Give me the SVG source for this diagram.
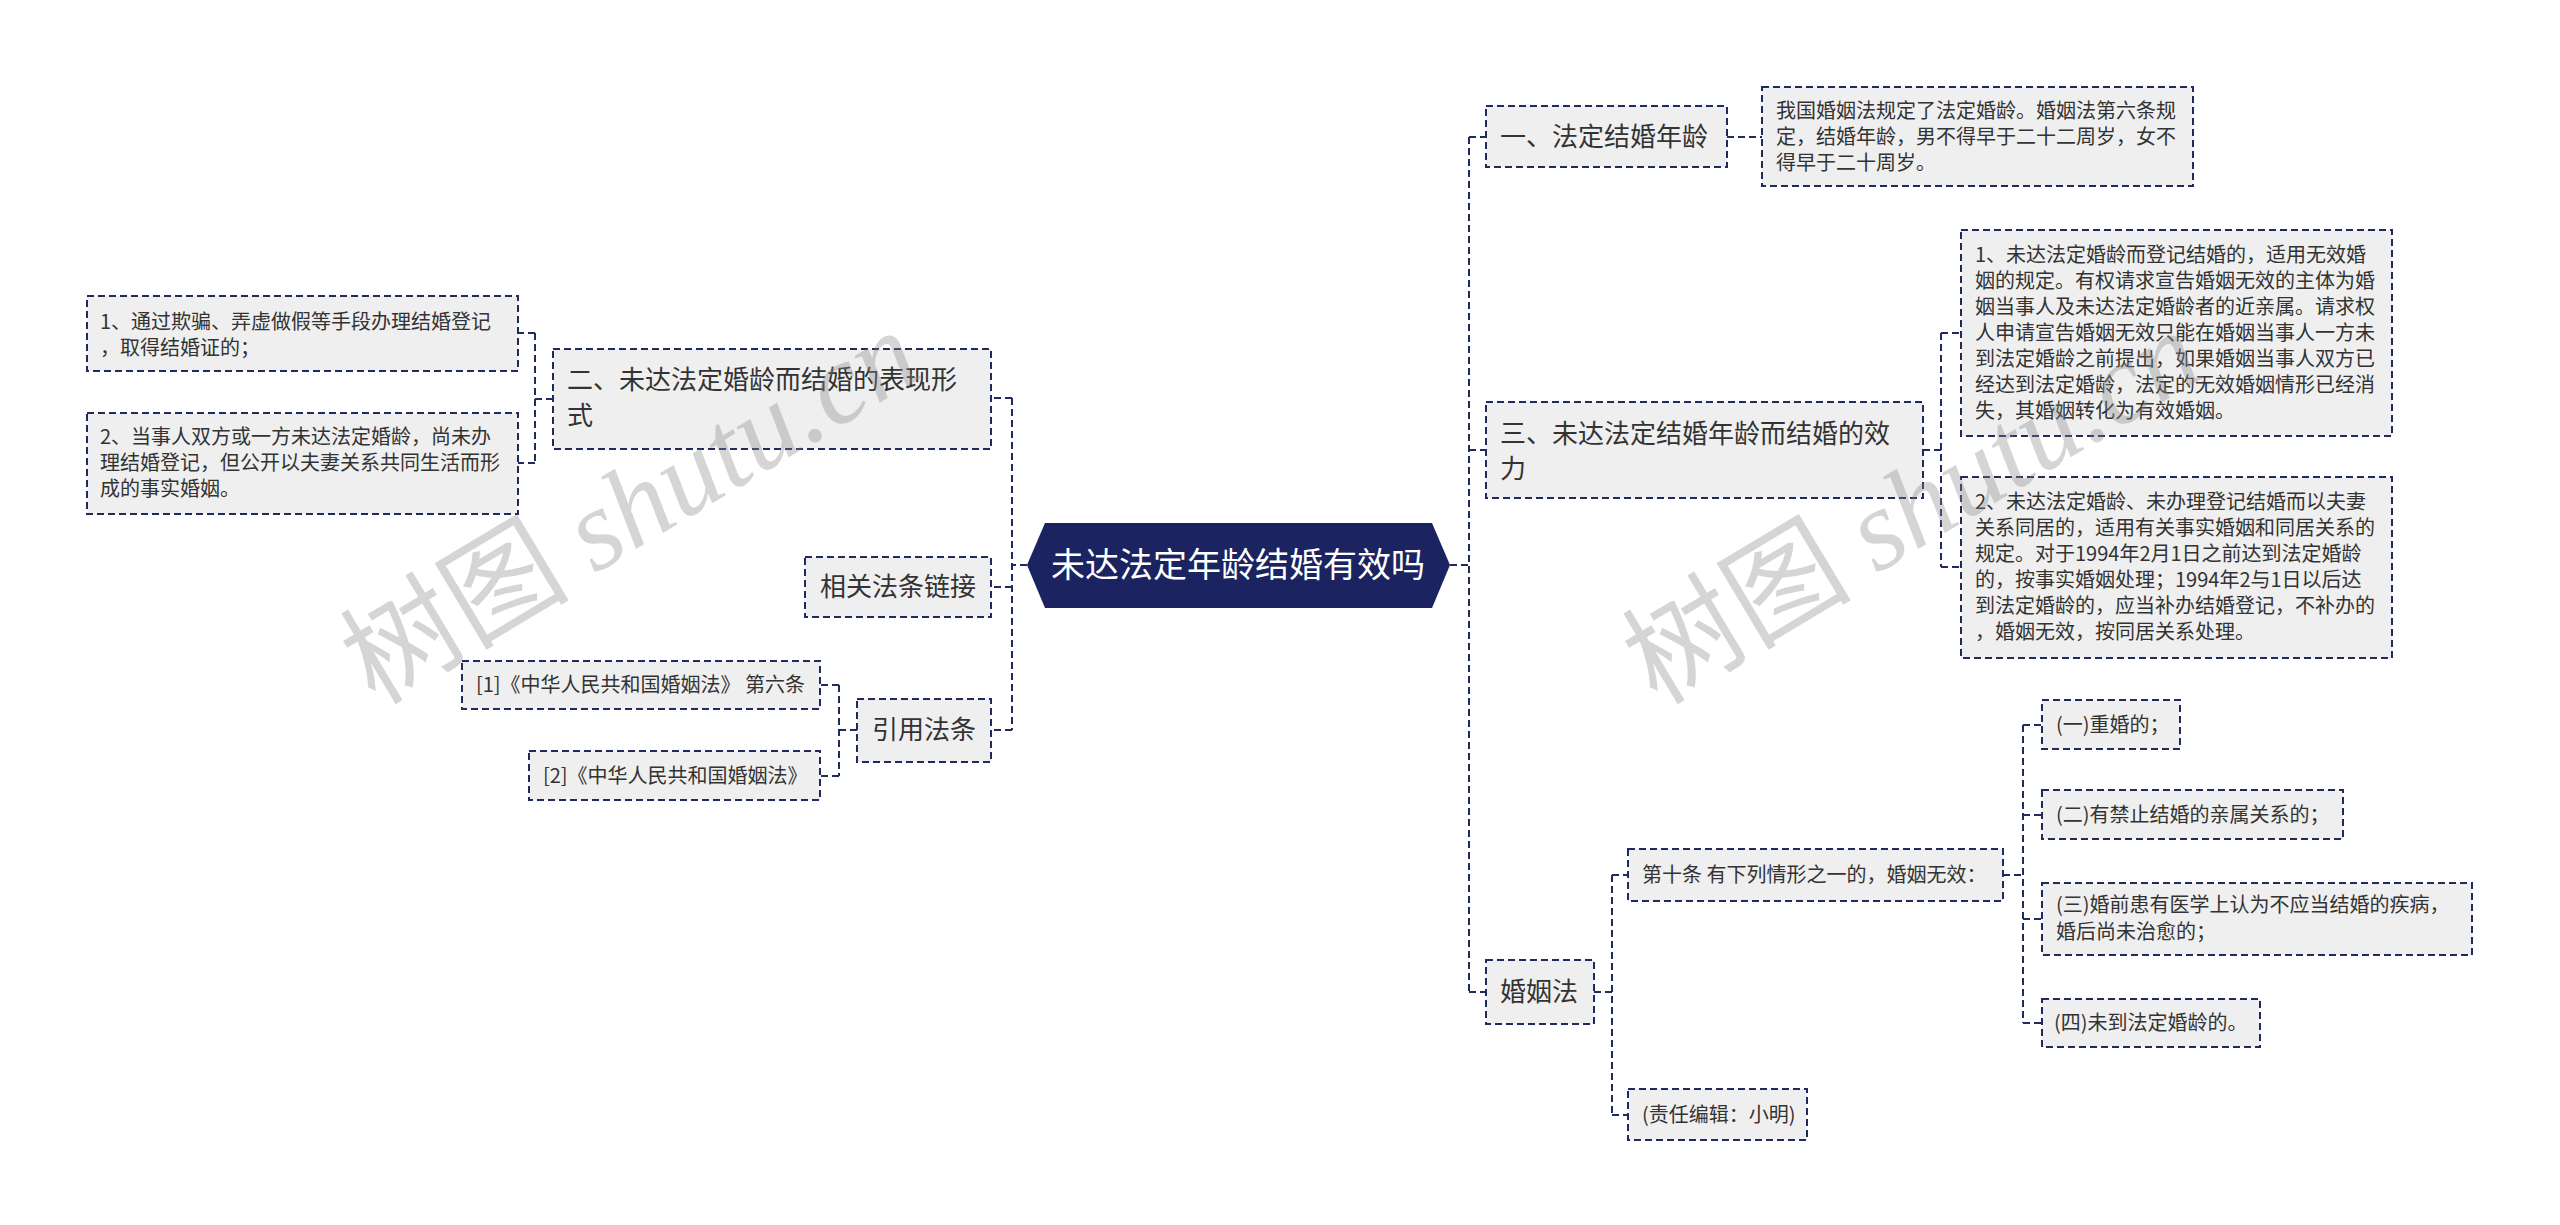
<svg xmlns="http://www.w3.org/2000/svg" width="2560" height="1225" viewBox="0 0 2560 1225">
<style>
.bg{fill:#ffffff}
.box{fill:#efefef;stroke:#1f2a5f;stroke-width:2;stroke-dasharray:7 4}
.conn{fill:none;stroke:#1f2a5f;stroke-width:2;stroke-dasharray:7 4}
.t1{font-family:"Noto Sans CJK SC","Microsoft YaHei",sans-serif;font-size:26px;fill:#333}
.t2{font-family:"Noto Sans CJK SC","Microsoft YaHei",sans-serif;font-size:20px;fill:#333}
.tc{font-family:"Noto Sans CJK SC","Microsoft YaHei",sans-serif;font-size:34px;fill:#ffffff}
.wm{font-family:"Noto Sans CJK SC",sans-serif;font-size:115px;fill:#888;fill-opacity:0.35}
.wm2{font-family:"Liberation Serif",serif;font-style:italic}
</style>
<rect class="bg" x="0" y="0" width="2560" height="1225"/>
<g id="connectors">
<path class="conn" d="M1450 565H1469M1469 137V991M1469 137H1486M1469 450H1486M1469 992H1486"/>
<path class="conn" d="M1727 137H1762"/>
<path class="conn" d="M1923 450H1941M1941 333V567M1941 333H1961M1941 567H1961"/>
<path class="conn" d="M1594 992H1612M1612 875V1115M1612 875H1628M1612 1115H1628"/>
<path class="conn" d="M2003 875H2023M2023 725V1023M2023 725H2042M2023 815H2042M2023 919H2042M2023 1023H2042"/>
<path class="conn" d="M1027 565H1012M1012 398V730M1012 398H991M1012 587H991M1012 730H991"/>
<path class="conn" d="M553 399H535M535 333V463M535 333H518M535 463H518"/>
<path class="conn" d="M857 730H839M839 685V776M839 685H820M839 776H820"/>
</g>
<g id="center">
<polygon points="1027,565 1045,523 1432,523 1450,565 1432,608 1045,608" fill="#1b2360"/>
<text class="tc" x="1238" y="577" text-anchor="middle">未达法定年龄结婚有效吗</text>
</g>
<g id="node-age">
<rect class="box" x="1486" y="106" width="241" height="61"/>
<text class="t1" x="1500" y="146">一、法定结婚年龄</text>
</g>
<g id="leaf-age">
<rect class="box" x="1762" y="87" width="431" height="99"/>
<text class="t2"><tspan x="1776" y="118">我国婚姻法规定了法定婚龄。婚姻法第六条规</tspan><tspan x="1776" y="144">定，结婚年龄，男不得早于二十二周岁，女不</tspan><tspan x="1776" y="170">得早于二十周岁。</tspan></text>
</g>
<g id="node-effect">
<rect class="box" x="1486" y="402" width="437" height="96"/>
<text class="t1"><tspan x="1500" y="443">三、未达法定结婚年龄而结婚的效</tspan><tspan x="1500" y="478">力</tspan></text>
</g>
<g id="leaf-effect-1">
<rect class="box" x="1961" y="230" width="431" height="206"/>
<text class="t2"><tspan x="1975" y="262">1、未达法定婚龄而登记结婚的，适用无效婚</tspan><tspan x="1975" y="288">姻的规定。有权请求宣告婚姻无效的主体为婚</tspan><tspan x="1975" y="314">姻当事人及未达法定婚龄者的近亲属。请求权</tspan><tspan x="1975" y="340">人申请宣告婚姻无效只能在婚姻当事人一方未</tspan><tspan x="1975" y="366">到法定婚龄之前提出，如果婚姻当事人双方已</tspan><tspan x="1975" y="392">经达到法定婚龄，法定的无效婚姻情形已经消</tspan><tspan x="1975" y="418">失，其婚姻转化为有效婚姻。</tspan></text>
</g>
<g id="leaf-effect-2">
<rect class="box" x="1961" y="477" width="431" height="181"/>
<text class="t2"><tspan x="1975" y="509">2、未达法定婚龄、未办理登记结婚而以夫妻</tspan><tspan x="1975" y="535">关系同居的，适用有关事实婚姻和同居关系的</tspan><tspan x="1975" y="561">规定。对于1994年2月1日之前达到法定婚龄</tspan><tspan x="1975" y="587">的，按事实婚姻处理；1994年2与1日以后达</tspan><tspan x="1975" y="613">到法定婚龄的，应当补办结婚登记，不补办的</tspan><tspan x="1975" y="639">，婚姻无效，按同居关系处理。</tspan></text>
</g>
<g id="node-law">
<rect class="box" x="1486" y="960" width="108" height="64"/>
<text class="t1" x="1500" y="1001">婚姻法</text>
</g>
<g id="node-art10">
<rect class="box" x="1628" y="849" width="375" height="52"/>
<text class="t2" x="1642" y="882">第十条 有下列情形之一的，婚姻无效：</text>
</g>
<g id="node-editor">
<rect class="box" x="1628" y="1089" width="179" height="51"/>
<text class="t2" x="1642" y="1122">(责任编辑：小明)</text>
</g>
<g id="item-1">
<rect class="box" x="2042" y="700" width="138" height="49"/>
<text class="t2" x="2056" y="732">(一)重婚的；</text>
</g>
<g id="item-2">
<rect class="box" x="2042" y="790" width="301" height="49"/>
<text class="t2" x="2056" y="822">(二)有禁止结婚的亲属关系的；</text>
</g>
<g id="item-3">
<rect class="box" x="2042" y="883" width="430" height="72"/>
<text class="t2"><tspan x="2056" y="912">(三)婚前患有医学上认为不应当结婚的疾病，</tspan><tspan x="2056" y="939">婚后尚未治愈的；</tspan></text>
</g>
<g id="item-4">
<rect class="box" x="2042" y="999" width="218" height="48"/>
<text class="t2" x="2054" y="1030">(四)未到法定婚龄的。</text>
</g>
<g id="node-forms">
<rect class="box" x="553" y="349" width="438" height="100"/>
<text class="t1"><tspan x="567" y="389">二、未达法定婚龄而结婚的表现形</tspan><tspan x="567" y="425">式</tspan></text>
</g>
<g id="leaf-forms-1">
<rect class="box" x="87" y="296" width="431" height="75"/>
<text class="t2"><tspan x="100" y="329">1、通过欺骗、弄虚做假等手段办理结婚登记</tspan><tspan x="100" y="355">，取得结婚证的；</tspan></text>
</g>
<g id="leaf-forms-2">
<rect class="box" x="87" y="413" width="431" height="101"/>
<text class="t2"><tspan x="100" y="444">2、当事人双方或一方未达法定婚龄，尚未办</tspan><tspan x="100" y="470">理结婚登记，但公开以夫妻关系共同生活而形</tspan><tspan x="100" y="496">成的事实婚姻。</tspan></text>
</g>
<g id="node-links">
<rect class="box" x="805" y="557" width="186" height="60"/>
<text class="t1" x="820" y="596">相关法条链接</text>
</g>
<g id="node-cite">
<rect class="box" x="857" y="699" width="134" height="63"/>
<text class="t1" x="872" y="739">引用法条</text>
</g>
<g id="cite-1">
<rect class="box" x="462" y="661" width="358" height="48"/>
<text class="t2" x="476" y="692">[1]《中华人民共和国婚姻法》 第六条</text>
</g>
<g id="cite-2">
<rect class="box" x="529" y="751" width="291" height="49"/>
<text class="t2" x="543" y="783">[2]《中华人民共和国婚姻法》</text>
</g>
<g id="watermark">
<text class="wm" x="375" y="706" transform="rotate(-31 375 706)">树图 <tspan class="wm2">shutu.cn</tspan></text>
<text class="wm" x="1657" y="706" transform="rotate(-31 1657 706)">树图 <tspan class="wm2">shutu.cn</tspan></text>
</g>
</svg>
